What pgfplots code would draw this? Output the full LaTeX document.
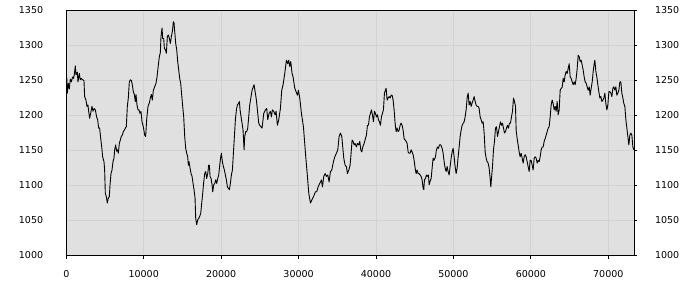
\documentclass[border=0pt]{standalone}
\usepackage{fontspec}
\setmainfont{DejaVu Sans}
\usepackage{pgfplots}
\usepackage{pgfplotstable}
\pgfplotsset{compat=1.18}
\definecolor{plotbg}{HTML}{E0E0E0}
\definecolor{gridc}{HTML}{D2D2D2}
\pgfplotstableread{
x y
0 1240
60 1254
130 1232
260 1246
388 1238
517 1252
646 1248
818 1255
948 1253
1077 1262
1163 1271
1249 1258
1421 1262
1507 1248
1680 1260
1809 1251
1938 1253
2110 1251
2283 1250
2369 1227
2541 1222
2670 1213
2800 1215
2886 1206
3015 1196
3144 1203
3316 1213
3446 1206
3575 1210
3747 1208
3919 1198
4049 1194
4178 1182
4307 1182
4436 1168
4565 1156
4695 1141
4867 1134
4953 1122
5039 1089
5168 1084
5298 1075
5427 1082
5556 1084
5642 1100
5771 1117
5901 1122
6030 1134
6159 1139
6245 1151
6374 1158
6504 1149
6633 1151
6719 1146
6848 1160
6977 1165
7107 1170
7236 1172
7365 1177
7494 1179
7623 1182
7753 1184
7882 1213
8011 1225
8140 1248
8269 1251
8399 1250
8528 1244
8657 1234
8786 1230
8915 1220
9001 1230
9131 1215
9260 1208
9389 1208
9518 1203
9647 1206
9777 1191
9949 1184
10121 1172
10251 1170
10380 1194
10552 1213
10724 1218
10854 1225
10983 1230
11112 1222
11241 1236
11414 1241
11586 1246
11715 1255
11887 1272
12016 1284
12146 1290
12232 1313
12364 1325
12451 1310
12580 1310
12666 1296
12795 1294
12924 1289
13054 1313
13183 1315
13312 1310
13441 1303
13570 1313
13700 1320
13829 1334
13915 1332
14001 1320
14130 1303
14260 1294
14389 1277
14518 1265
14647 1253
14776 1246
14906 1229
15035 1213
15164 1198
15293 1170
15422 1153
15552 1146
15681 1141
15767 1129
15853 1134
15982 1125
16112 1117
16241 1113
16370 1103
16499 1094
16628 1082
16715 1053
16844 1044
16973 1051
17102 1053
17231 1056
17361 1060
17490 1075
17619 1089
17748 1105
17877 1117
18007 1120
18136 1110
18265 1117
18394 1129
18480 1129
18567 1113
18696 1110
18825 1101
18911 1091
19040 1101
19170 1103
19299 1108
19428 1103
19557 1110
19686 1115
19816 1129
19945 1141
20031 1146
20160 1134
20289 1127
20419 1122
20548 1115
20677 1108
20806 1098
20935 1096
21065 1094
21194 1103
21323 1115
21452 1122
21581 1146
21711 1170
21840 1194
21969 1208
22098 1215
22228 1217
22357 1220
22443 1208
22572 1198
22701 1189
22830 1179
22960 1151
23046 1170
23175 1177
23304 1177
23433 1182
23691 1215
23993 1236
24251 1244
24553 1222
24854 1189
24983 1186
25285 1182
25500 1203
25716 1208
25888 1210
26017 1194
26189 1203
26362 1206
26491 1198
26620 1208
26792 1206
26965 1201
27094 1206
27266 1186
27438 1194
27654 1210
27826 1236
27998 1244
28214 1260
28429 1279
28601 1274
28730 1279
28860 1270
28989 1277
29161 1260
29290 1255
29506 1239
29678 1234
29850 1229
29979 1236
30152 1225
30367 1203
30626 1184
30927 1141
31143 1113
31315 1089
31530 1075
31702 1079
31832 1082
32004 1086
32176 1091
32348 1091
32520 1098
32736 1103
32951 1108
33081 1098
33253 1113
33425 1117
33598 1113
33770 1115
33942 1105
34114 1120
34287 1122
34502 1134
34674 1141
34890 1146
35062 1151
35234 1170
35406 1175
35579 1170
35663 1160
35836 1139
36008 1129
36180 1127
36309 1117
36482 1122
36654 1129
36783 1146
36912 1165
37042 1163
37171 1158
37300 1160
37472 1155
37601 1160
37774 1158
37903 1163
38032 1151
38161 1148
38291 1155
38463 1160
38635 1167
38764 1172
38894 1186
39023 1186
39152 1198
39281 1203
39410 1208
39540 1201
39669 1191
39798 1206
39927 1203
40056 1198
40186 1201
40315 1194
40444 1191
40573 1186
40702 1198
40832 1203
40961 1208
41090 1232
41219 1236
41306 1239
41435 1222
41564 1225
41693 1227
41822 1225
41952 1229
42081 1229
42210 1222
42339 1208
42468 1189
42598 1177
42727 1182
42856 1177
42985 1179
43114 1186
43244 1189
43373 1186
43502 1179
43631 1167
43760 1165
43890 1163
44019 1160
44148 1148
44277 1146
44406 1146
44536 1151
44665 1148
44794 1144
44923 1136
45052 1125
45182 1117
45311 1122
45440 1117
45569 1117
45698 1115
45828 1113
45957 1108
46086 1096
46172 1094
46259 1108
46388 1110
46517 1115
46646 1113
46775 1115
46861 1101
46991 1106
47120 1110
47249 1125
47378 1139
47507 1136
47679 1141
47808 1151
47938 1155
48067 1153
48196 1158
48368 1158
48541 1153
48670 1146
48799 1134
48928 1125
49058 1120
49187 1127
49316 1120
49445 1115
49574 1127
49704 1139
49833 1148
49962 1153
50091 1141
50220 1127
50350 1117
50479 1125
50608 1141
50737 1155
50866 1170
50996 1179
51125 1186
51254 1189
51383 1191
51512 1198
51642 1208
51771 1225
51900 1232
52029 1215
52159 1220
52288 1213
52417 1218
52546 1222
52675 1227
52805 1220
52934 1215
53063 1213
53192 1213
53321 1210
53451 1198
53580 1194
53709 1189
53838 1191
53967 1175
54097 1148
54226 1139
54355 1134
54484 1132
54613 1125
54743 1110
54829 1098
54915 1110
55044 1127
55173 1151
55302 1163
55432 1182
55561 1184
55690 1170
55819 1177
55949 1184
56078 1191
56207 1186
56336 1189
56465 1182
56595 1175
56724 1177
56853 1182
56982 1186
57111 1182
57241 1189
57370 1189
57499 1198
57628 1206
57757 1225
57887 1220
58016 1213
58102 1179
58231 1167
58360 1158
58489 1148
58618 1141
58748 1146
58877 1139
59006 1132
59135 1141
59264 1144
59393 1141
59522 1134
59651 1127
59780 1120
59910 1136
60039 1136
60168 1129
60297 1122
60426 1139
60556 1141
60685 1139
60814 1132
60943 1136
61073 1134
61202 1141
61331 1151
61460 1155
61589 1155
61719 1163
61848 1167
61977 1172
62106 1177
62235 1182
62365 1184
62494 1198
62623 1215
62752 1222
62881 1217
63011 1208
63140 1213
63269 1206
63398 1220
63528 1201
63657 1208
63786 1236
63915 1239
64044 1240
64174 1253
64303 1248
64432 1258
64561 1263
64690 1260
64820 1267
64949 1274
65078 1255
65207 1253
65336 1248
65466 1244
65595 1248
65724 1244
65853 1253
65982 1267
66112 1286
66241 1284
66370 1277
66499 1279
66628 1272
66758 1265
66887 1255
67016 1248
67145 1246
67274 1241
67404 1236
67533 1241
67662 1229
67791 1239
67921 1248
68050 1263
68179 1274
68265 1279
68394 1263
68524 1255
68653 1244
68782 1234
68911 1225
69040 1227
69170 1220
69299 1222
69428 1225
69557 1232
69686 1217
69816 1208
69945 1215
70074 1234
70203 1234
70332 1232
70461 1227
70591 1239
70720 1241
70849 1236
70978 1241
71107 1229
71237 1232
71366 1236
71495 1248
71624 1248
71753 1232
71883 1225
72012 1217
72141 1213
72270 1194
72400 1182
72529 1170
72658 1158
72787 1172
72917 1175
73046 1172
73175 1155
73304 1151
}\series
\begin{document}
\begin{tikzpicture}
\pgfplotsset{
  common/.style={
    scale only axis,
    width=568bp, height=245bp,
    at={(0,0)}, anchor=south west,
    xmin=0, xmax=73360, ymin=1000, ymax=1350,
    ytick={1000,1050,...,1350},
    scaled x ticks=false, scaled y ticks=false,
    /pgf/number format/1000 sep={},
    /pgf/number format/assume math mode=true,
    tick label style={font=\fontsize{9.5bp}{11bp}\selectfont, text=black},
  }
}
\begin{axis}[common,
  axis background/.style={fill=plotbg},
  axis line style={black, line width=1bp},
  xtick={0,10000,...,70000},
  grid=major,
  major grid style={gridc, line width=1bp},
  tick align=outside,
  major tick length=3bp,
  tick style={black, line width=1bp},
  xtick pos=bottom,
  ytick pos=right,
  yticklabel pos=right,
  xticklabel style={inner sep=0pt, yshift=-11.5bp},
  yticklabel style={inner sep=0pt, anchor=west, xshift=17.5bp},
]
\addplot[black, line width=0.9bp, line join=round] table[x=x, y=y] {\series};
\end{axis}
\begin{axis}[common,
  axis line style={draw=none},
  xtick=\empty,
  major tick length=0pt,
  ytick pos=left,
  yticklabel pos=left,
  yticklabel style={inner sep=0pt, anchor=east, xshift=-23bp},
]
\end{axis}
\path[use as bounding box] (-66.3bp,-44.5bp) rectangle (633.7bp,255.5bp);
\end{tikzpicture}
\end{document}
